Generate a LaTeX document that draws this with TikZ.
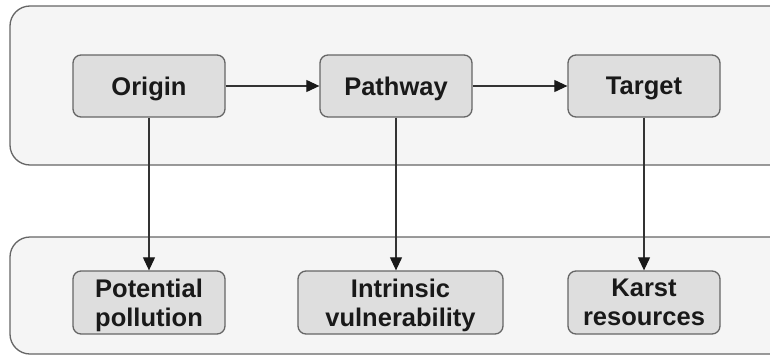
\documentclass[tikz,border=0pt]{standalone}
\usepackage{fontspec}
\setmainfont{Liberation Sans}
\usetikzlibrary{arrows.meta}
\definecolor{panelfill}{HTML}{F5F5F5}
\definecolor{boxfill}{HTML}{DEDEDE}
\definecolor{edge}{HTML}{666666}
\definecolor{arrowc}{HTML}{333333}
\tikzset{
  panel/.style={draw=edge, line width=1.3pt, fill=panelfill, rounded corners=20pt},
  box/.style={draw=edge, line width=1.3pt, fill=boxfill, rounded corners=8pt, inner sep=0pt,
    font=\bfseries\fontsize{25.5}{29}\selectfont, text=black!90, align=center, text depth=0pt},
  onebox/.style={box, minimum width=152pt, minimum height=62pt},
  conn/.style={draw=arrowc, line width=1.1pt, -{Triangle[length=13pt,width=12pt,fill=black!90,color=black!90]}}
}
\begin{document}
\begin{tikzpicture}[x=1pt,y=-1pt]
\useasboundingbox (0,0) rectangle (770,356);
\fill[white] (0,0) rectangle (770,356);
\clip (0,0) rectangle (770,356);
\draw[panel] (10,6) rectangle (800,165);
\draw[panel] (10,237) rectangle (800,354);
\node[onebox] (origin) at (149,86) {Origin};
\node[onebox] (pathway) at (396,86) {Pathway};
\node[onebox] (target) at (644,86) {Target};
\node[box, minimum width=152pt, minimum height=63pt] (pollution) at (149,302.5) {Potential\\pollution};
\node[box, minimum width=205pt, minimum height=63pt] (vuln) at (400.5,302.5) {Intrinsic\\vulnerability};
\node[box, minimum width=152pt, minimum height=63pt] (karst) at (644,302.5) {Karst\\resources};
\draw[conn] (origin) -- (pathway);
\draw[conn] (pathway) -- (target);
\draw[conn] (origin) -- (pollution);
\draw[conn] (pathway.south) -- (pathway.south |- vuln.north);
\draw[conn] (target) -- (karst);
\end{tikzpicture}
\end{document}
